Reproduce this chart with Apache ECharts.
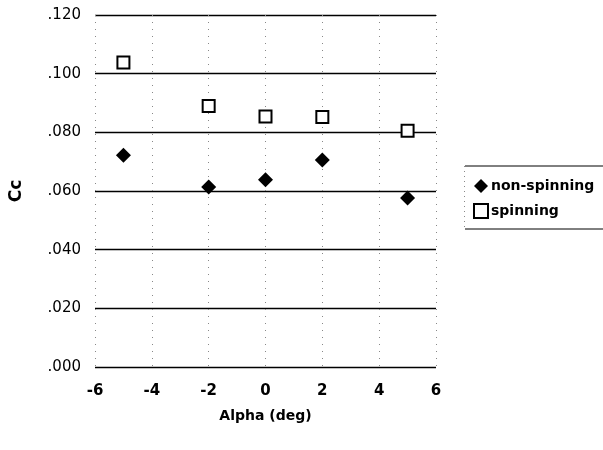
<!DOCTYPE html>
<html><head><meta charset="utf-8">
<script src="https://cdn.jsdelivr.net/npm/echarts@6/dist/echarts.min.js"></script>
<style>html,body{margin:0;padding:0;background:#fff}#c{width:603px;height:450px}</style>
</head><body><div id="c"></div>
<script>
const alpha = [-5, -2, 0, 2, 5];
const nonSpinning = [0.0722, 0.0614, 0.0638, 0.0706, 0.0576];
const spinning = [0.1038, 0.0890, 0.0854, 0.0852, 0.0805];
const seriesNames = ['non-spinning', 'spinning'];

const chart = echarts.init(document.getElementById('c'));
const font = 'DejaVu Sans';
chart.setOption({
  backgroundColor: '#fff',
  animation: false,
  grid: {left: 95, right: 167, top: 15, bottom: 83, containLabel: false, outerBoundsMode: 'none'},
  xAxis: {
    type: 'value', min: -6, max: 6, interval: 2,
    name: 'Alpha (deg)', nameLocation: 'middle', nameGap: 42,
    nameTextStyle: {color: '#000', fontFamily: font, fontWeight: 'bold', fontSize: 14},
    axisLine: {show: false}, axisTick: {show: false},
    axisLabel: {color: '#000', fontFamily: font, fontWeight: 'bold', fontSize: 15, margin: 17},
    splitLine: {show: true, lineStyle: {color: '#888', type: [1, 6], width: 1}}
  },
  yAxis: {
    type: 'value', min: 0, max: 0.12, interval: 0.02,
    name: 'Cc', nameLocation: 'middle', nameGap: 70,
    nameTextStyle: {color: '#000', fontFamily: font, fontWeight: 'bold', fontSize: 17},
    axisLine: {show: false}, axisTick: {show: false},
    axisLabel: {color: '#000', fontFamily: font, fontSize: 15, margin: 14,
      formatter: v => v.toFixed(3).replace(/^0/, '')},
    splitLine: {show: true, lineStyle: {color: '#000', width: 1.3}}
  },
  legend: {
    orient: 'vertical', left: 468, top: 174, itemGap: 10, itemWidth: 14, itemHeight: 14,
    textStyle: {color: '#000', fontFamily: font, fontSize: 14, fontWeight: 'bold', padding: [0, 0, 0, -2]},
    data: seriesNames
  },
  graphic: [
    {type: 'line', shape: {x1: 465, y1: 166, x2: 603, y2: 166}, style: {stroke: '#000', lineWidth: 1}},
    {type: 'line', shape: {x1: 465, y1: 229, x2: 603, y2: 229}, style: {stroke: '#000', lineWidth: 1}},
    {type: 'line', shape: {x1: 464.5, y1: 166, x2: 464.5, y2: 229}, style: {stroke: '#888', lineWidth: 1, lineDash: [1, 4]}}
  ],
  series: [
    {name: seriesNames[0], type: 'scatter', symbol: 'diamond', symbolSize: 15,
     itemStyle: {color: '#000', opacity: 1}, data: alpha.map((a, i) => [a, nonSpinning[i]])},
    {name: seriesNames[1], type: 'scatter', symbol: 'rect', symbolSize: 12,
     itemStyle: {color: '#fff', borderColor: '#000', borderWidth: 2, opacity: 1}, data: alpha.map((a, i) => [a, spinning[i]])}
  ]
});
</script></body></html>
